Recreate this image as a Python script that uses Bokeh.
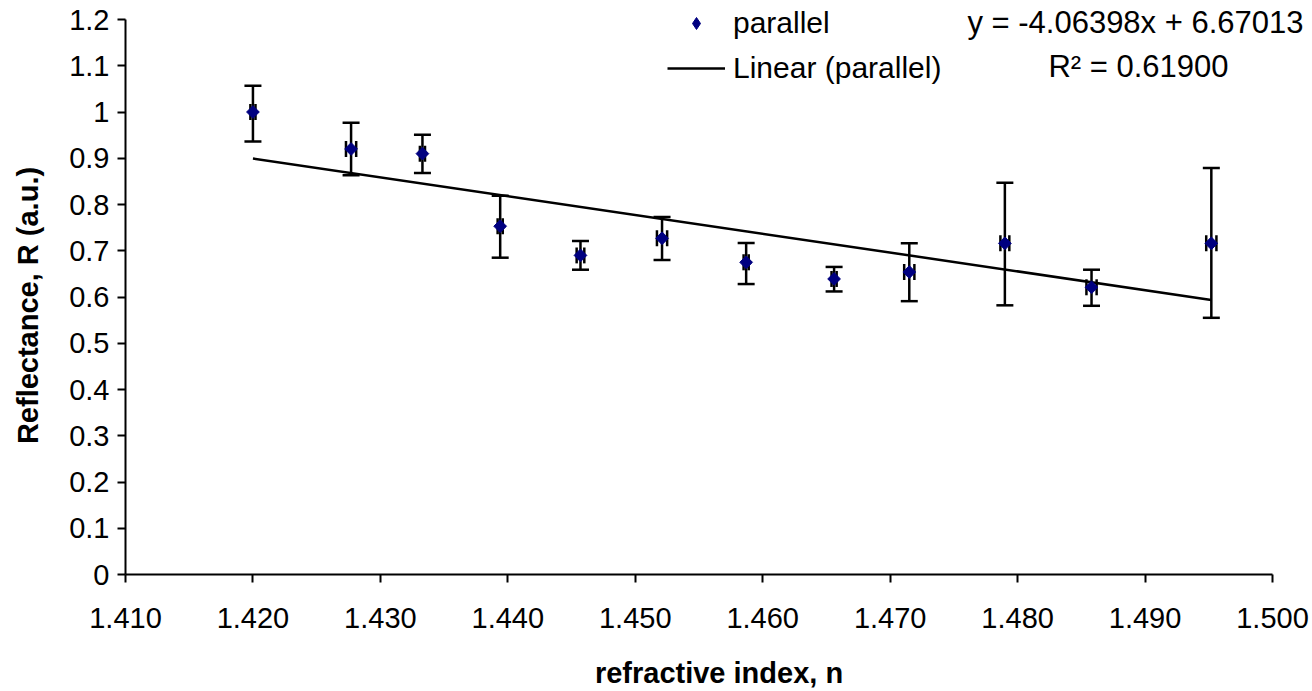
import numpy as np
from bokeh.plotting import figure
from bokeh.layouts import row
from bokeh.models import (Whisker, TeeHead, ColumnDataSource, FixedTicker, Label,
                          Legend, LegendItem)
from bokeh.core.properties import value
from bokeh.embed import file_html
from bokeh.resources import INLINE

# ---- data ----
n_index = [1.4200, 1.4277, 1.4333, 1.4394, 1.4457, 1.4521, 1.4587, 1.4656, 1.4715, 1.4790, 1.4858, 1.4952]
reflect = [1.000, 0.920, 0.910, 0.753, 0.690, 0.727, 0.675, 0.639, 0.654, 0.716, 0.621, 0.716]
r_upper = [1.057, 0.977, 0.951, 0.819, 0.721, 0.773, 0.717, 0.665, 0.716, 0.847, 0.659, 0.879]
r_lower = [0.936, 0.863, 0.868, 0.685, 0.659, 0.680, 0.628, 0.612, 0.591, 0.582, 0.581, 0.555]
n_err = [0.0002, 0.0004, 0.0002, 0.0002, 0.0003, 0.0004, 0.0002, 0.0002, 0.0004, 0.00035, 0.0004, 0.0004]

slope = -4.06398
intercept = 6.67013
r_squared = 0.61900

x_ticks = [1.41, 1.42, 1.43, 1.44, 1.45, 1.46, 1.47, 1.48, 1.49, 1.50]
x_tick_labels = ["1.410", "1.420", "1.430", "1.440", "1.450", "1.460", "1.470", "1.480", "1.490", "1.500"]
y_ticks = [0.0, 0.1, 0.2, 0.3, 0.4, 0.5, 0.6, 0.7, 0.8, 0.9, 1.0, 1.1, 1.2]
y_tick_labels = ["0", "0.1", "0.2", "0.3", "0.4", "0.5", "0.6", "0.7", "0.8", "0.9", "1", "1.1", "1.2"]

x_title = "refractive index, n"
y_title = "Reflectance, R (a.u.)"

FONT = "Liberation Sans"
MARKER = "#000080"

# ---- layout geometry (pixels) ----
W, H = 1312, 691
TITLE_W = 60                 # narrow strip holding the y-axis title
FRAME_LEFT = 125             # canvas x of the y axis
FRAME_BOTTOM = 574           # canvas y of the x axis
AXIS_TOP = 19                # canvas y of 1.2
AXIS_RIGHT = 1272            # canvas x of 1.500

x0, x1 = x_ticks[0], x_ticks[-1]
y0, y1 = y_ticks[0], y_ticks[-1]
x_end = x0 + (x1 - x0) * (W - FRAME_LEFT) / (AXIS_RIGHT - FRAME_LEFT)
y_end = y0 + (y1 - y0) * FRAME_BOTTOM / (FRAME_BOTTOM - AXIS_TOP)

p = figure(width=W - TITLE_W, height=H, x_range=(x0, x_end), y_range=(y0, y_end),
           output_backend="svg", toolbar_location=None,
           min_border_left=FRAME_LEFT - TITLE_W, min_border_right=0, min_border_top=0,
           min_border_bottom=H - FRAME_BOTTOM)
p.xgrid.visible = False
p.ygrid.visible = False
p.outline_line_color = None
p.background_fill_color = "white"
p.border_fill_color = "white"

src = ColumnDataSource(dict(
    x=n_index, y=reflect, up=r_upper, lo=r_lower,
    xl=[a - e for a, e in zip(n_index, n_err)],
    xr=[a + e for a, e in zip(n_index, n_err)],
))

# vertical error bars
p.add_layout(Whisker(source=src, base="x", upper="up", lower="lo", dimension="height",
                     line_color="black", line_width=2.5,
                     upper_head=TeeHead(size=17, line_color="black", line_width=2.5),
                     lower_head=TeeHead(size=17, line_color="black", line_width=2.5)))
# horizontal error bars
p.add_layout(Whisker(source=src, base="y", upper="xr", lower="xl", dimension="width",
                     line_color="black", line_width=2.5,
                     upper_head=TeeHead(size=16, line_color="black", line_width=2.5),
                     lower_head=TeeHead(size=16, line_color="black", line_width=2.5)))

# linear trendline
tx = [min(n_index), max(n_index)]
ty = [slope * v + intercept for v in tx]
trend = p.line(tx, ty, line_color="black", line_width=2.5)

pts = p.scatter("x", "y", source=src, marker="square", angle=np.pi / 4, size=9,
                fill_color=MARKER, line_color=MARKER)
# hidden twin of the points, used only to draw a diamond swatch in the legend
swatch = p.scatter("x", "y", source=src, marker="diamond", fill_color=MARKER,
                   line_color=MARKER, visible=False)

# axes
for ax in (p.xaxis[0], p.yaxis[0]):
    ax.axis_line_color = "black"
    ax.axis_line_width = 2
    ax.major_tick_line_color = "black"
    ax.major_tick_line_width = 2
    ax.major_tick_in = 0
    ax.major_tick_out = 8
    ax.minor_tick_line_color = None
    ax.major_label_text_font = FONT
    ax.major_label_text_font_size = "29px"
    ax.major_label_text_color = "black"

p.xaxis.bounds = (x0, x1)
p.yaxis.bounds = (y0, y1)
p.xaxis.ticker = FixedTicker(ticks=x_ticks)
p.yaxis.ticker = FixedTicker(ticks=y_ticks)
p.xaxis.major_label_overrides = {t: l for t, l in zip(x_ticks, x_tick_labels)}
p.yaxis.major_label_overrides = {t: l for t, l in zip(y_ticks, y_tick_labels)}
p.xaxis.major_label_standoff = 25
p.yaxis.major_label_standoff = 8

p.xaxis.axis_label = x_title
p.xaxis.axis_label_text_font = FONT
p.xaxis.axis_label_text_font_size = "29px"
p.xaxis.axis_label_text_font_style = "bold"
p.xaxis.axis_label_text_color = "black"
p.xaxis.axis_label_standoff = 26

# equation and R^2 (screen units measured from the frame's bottom-left)
p.add_layout(Label(x=1303 - FRAME_LEFT, y=FRAME_BOTTOM - 22, x_units="screen", y_units="screen",
                   text=f"y = {slope:.5f}x + {intercept:.5f}",
                   text_align="right", text_baseline="middle",
                   text_font=FONT, text_font_size="31px", text_color="black"))
p.add_layout(Label(x=1138 - FRAME_LEFT, y=FRAME_BOTTOM - 66, x_units="screen", y_units="screen",
                   text=f"R\u00b2 = {r_squared:.5f}",
                   text_align="center", text_baseline="middle",
                   text_font=FONT, text_font_size="31px", text_color="black"))

legend = Legend(items=[LegendItem(label="parallel", renderers=[swatch]),
                       LegendItem(label="Linear (parallel)", renderers=[trend])],
                location=(667 - FRAME_LEFT, FRAME_BOTTOM - 88), orientation="vertical",
                glyph_width=58, glyph_height=30, label_height=40, spacing=5,
                padding=0, margin=0, label_standoff=8, click_policy="none",
                inactive_fill_alpha=0,
                label_text_font=FONT, label_text_font_size="30px",
                label_text_color="black", border_line_color=None,
                background_fill_alpha=0)
p.add_layout(legend)

# narrow strip with the rotated y-axis title; its frame matches the main frame (0..574)
t = figure(width=TITLE_W, height=H, x_range=(0, TITLE_W), y_range=(0, FRAME_BOTTOM),
           output_backend="svg", toolbar_location=None,
           x_axis_location=None, y_axis_location=None,
           min_border_left=0, min_border_right=0, min_border_top=0,
           min_border_bottom=H - FRAME_BOTTOM)
t.grid.visible = False
t.outline_line_color = None
t.background_fill_color = "white"
t.border_fill_color = "white"
t.text(x=[27], y=[FRAME_BOTTOM - 305], text=[y_title], angle=np.pi / 2,
       text_align="center", text_baseline="middle",
       text_font=value(FONT), text_font_size="29px", text_font_style="bold",
       text_color="black")

layout = row(t, p, spacing=0)
open("out.html", "w").write(file_html(layout, INLINE))
